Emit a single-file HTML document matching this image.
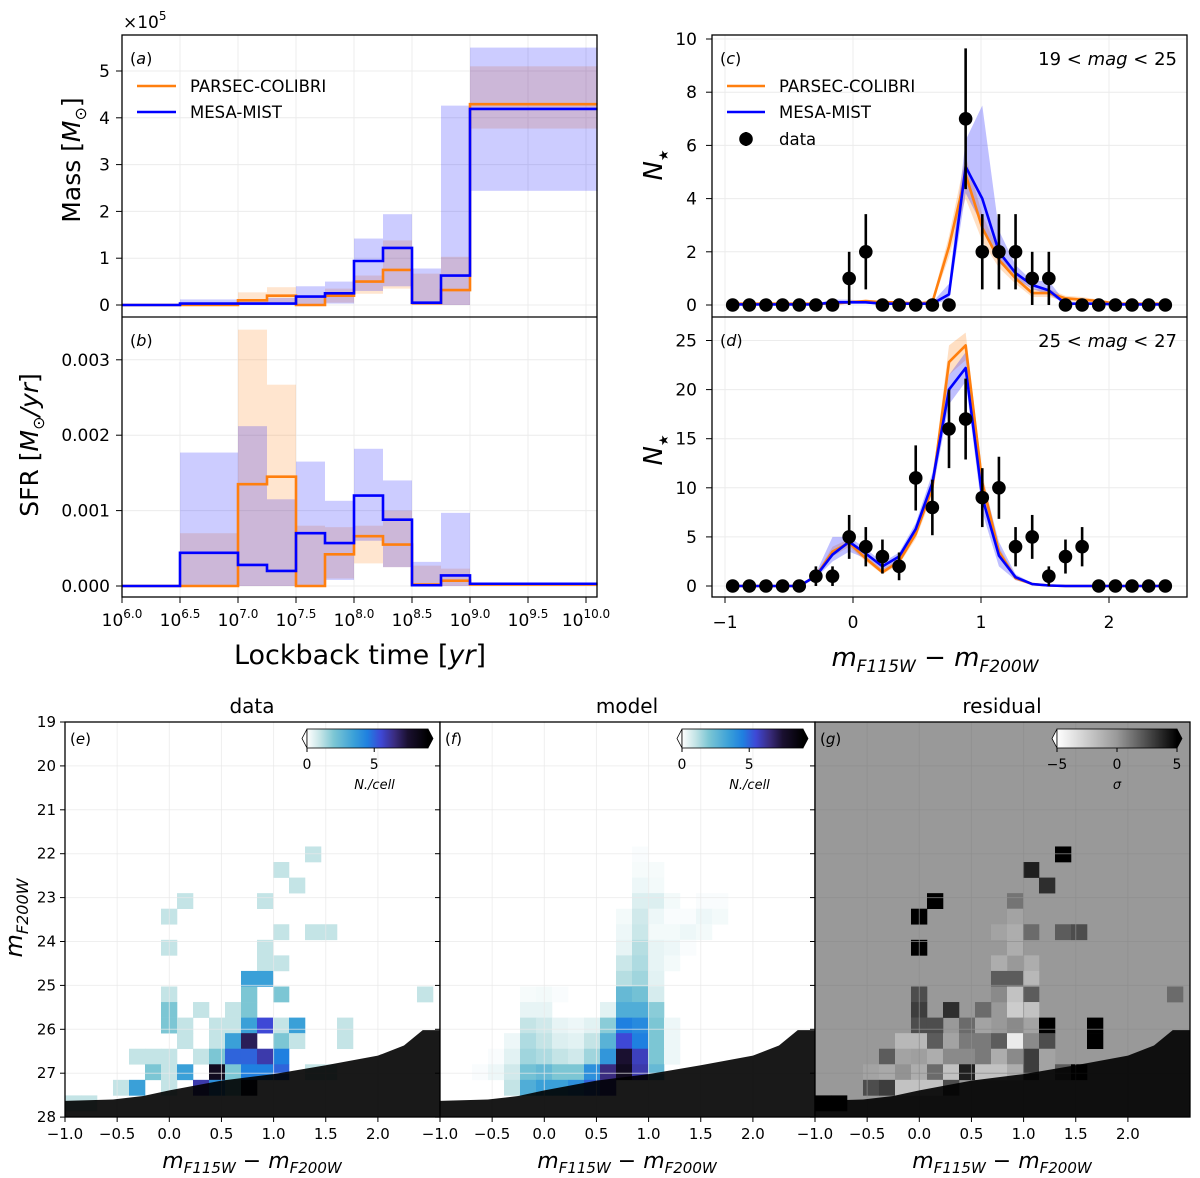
<!DOCTYPE html>
<html><head><meta charset="utf-8">
<style>
html,body{margin:0;padding:0;background:#fff;}
svg{display:block;font-family:"DejaVu Sans","Liberation Sans",sans-serif;}
</style></head>
<body>
<svg id="fig" width="1200" height="1178" viewBox="0 0 1200 1178" xmlns="http://www.w3.org/2000/svg">
<defs>
<clipPath id="clipE"><rect x="65" y="722" width="375" height="395"/></clipPath>
<clipPath id="clipF"><rect x="440" y="722" width="375" height="395"/></clipPath>
<clipPath id="clipG"><rect x="815" y="722" width="375" height="395"/></clipPath>
<linearGradient id="gradN" x1="0" x2="1" y1="0" y2="0">
<stop offset="0" stop-color="#ffffff"/><stop offset="0.111" stop-color="#c4e4e6"/><stop offset="0.222" stop-color="#7cc6d4"/><stop offset="0.389" stop-color="#3aa0d8"/><stop offset="0.5" stop-color="#1f80e0"/><stop offset="0.611" stop-color="#3e48d6"/><stop offset="0.722" stop-color="#3a2c80"/><stop offset="0.833" stop-color="#1a1030"/><stop offset="1" stop-color="#000000"/>
</linearGradient>
<linearGradient id="gradR" x1="0" x2="1" y1="0" y2="0">
<stop offset="0" stop-color="#ffffff"/><stop offset="0.5" stop-color="#999999"/><stop offset="1" stop-color="#000000"/>
</linearGradient>
</defs>
</svg>
<script>
// ---------- Panel (a)/(b) data ----------
const binEdges = [6.0,6.5,7.0,7.25,7.5,7.75,8.0,8.25,8.5,8.75,9.0,10.1];
const massParsec = [0,0,0.1,0.2,0,0.2,0.5,0.75,0.04,0.32,4.29];
const massMist   = [0,0.03,0.03,0.03,0.18,0.25,0.94,1.22,0.05,0.63,4.19];
const massMistLo = [0,0,0,0,0,0.03,0.3,0.4,0,0,2.44];
const massMistHi = [0,0.12,0.12,0.15,0.4,0.5,1.42,1.94,0.78,4.26,5.5];
const massParLo  = [0,0,0,0.05,0,0.05,0.24,0.35,0,0,3.77];
const massParHi  = [0,0,0.27,0.38,0.2,0.35,0.63,1.38,0.67,1.03,5.1];
const sfrParsec = [0,0,1.35,1.45,0,0.42,0.66,0.55,0.02,0.07,0.02];
const sfrMist   = [0,0.44,0.28,0.2,0.7,0.57,1.2,0.88,0.01,0.14,0.03];
const sfrMistLo = [0,0,0,0,0,0.08,0.6,0.25,0,0,0];
const sfrMistHi = [0,1.77,2.12,1.15,1.65,1.13,1.82,1.4,0.32,0.97,0.03];
const sfrParLo  = [0,0,0,0,0,0.1,0.3,0.25,0,0,0];
const sfrParHi  = [0,0.7,3.4,2.67,0.8,0.78,0.8,1.0,0.27,0.23,0.02];
const massTicks = [0,1,2,3,4,5];
const sfrTicks = [0,1,2,3];
const sfrTickLabels = ["0.000","0.001","0.002","0.003"];
const logTicks = [6.0,6.5,7.0,7.5,8.0,8.5,9.0,9.5,10.0];

// ---------- Panel (c)/(d) data ----------
const colors = [-0.94,-0.81,-0.68,-0.55,-0.42,-0.29,-0.16,-0.03,0.10,0.23,0.36,0.49,0.62,0.75,0.88,1.01,1.14,1.27,1.40,1.53,1.66,1.79,1.92,2.05,2.18,2.31,2.44];
const dataC = [0,0,0,0,0,0,0,1,2,0,0,0,0,0,7,2,2,2,1,1,0,0,0,0,0,0,0];
const parC  = [0.05,0.05,0.05,0.05,0.05,0.05,0.05,0.1,0.15,0.1,0.1,0.05,0.1,2.2,4.9,2.9,1.7,1.0,0.45,0.45,0.25,0.2,0.15,0.05,0.05,0.05,0.05];
const parCLo= [0.02,0.02,0.02,0.02,0.02,0.02,0.02,0.05,0.1,0.05,0.05,0.02,0.05,1.8,4.0,2.4,1.4,0.8,0.3,0.3,0.15,0.1,0.1,0.02,0.02,0.02,0.02];
const parCHi= [0.1,0.1,0.1,0.1,0.1,0.1,0.1,0.15,0.2,0.15,0.15,0.1,0.2,2.6,5.6,3.4,2.0,1.2,0.6,0.6,0.35,0.3,0.2,0.1,0.1,0.1,0.1];
const misC  = [0.02,0.02,0.02,0.02,0.02,0.02,0.1,0.1,0.1,0.05,0.05,0.05,0.05,0.4,5.2,4.0,2.0,1.2,0.75,0.55,0.05,0.05,0.05,0.02,0.02,0.02,0.02];
const misCLo= [0,0,0,0,0,0,0.05,0.05,0.05,0.02,0.02,0.02,0.02,0.2,4.2,3.0,1.6,1.0,0.6,0.4,0.02,0.02,0.02,0,0,0,0];
const misCHi= [0.05,0.05,0.05,0.05,0.05,0.05,0.2,0.2,0.15,0.1,0.1,0.1,0.1,0.8,6.2,7.5,2.8,1.5,0.9,0.9,0.1,0.1,0.1,0.05,0.05,0.05,0.05];
const dataD = [0,0,0,0,0,1,1,5,4,3,2,11,8,16,17,9,10,4,5,1,3,4,0,0,0,0,0];
const parD  = [0,0,0,0,0,1.0,3.5,4.4,2.8,1.4,2.5,5.3,10,22.8,24.5,10.5,3.5,0.8,0.2,0.05,0,0,0,0,0,0,0];
const parDLo= [0,0,0,0,0,0.8,3.0,4.0,2.5,1.2,2.2,4.8,9.2,21.5,23.0,9.5,3.0,0.6,0.1,0,0,0,0,0,0,0,0];
const parDHi= [0,0,0,0,0,1.2,4.0,4.8,3.1,1.7,2.8,5.8,10.8,24.5,25.8,11.5,4.0,1.0,0.3,0.1,0,0,0,0,0,0,0];
const misD  = [0,0,0,0,0,1.0,3.2,4.5,3.3,2.0,3.0,5.8,10.5,20,22.2,9.0,3.1,0.9,0.2,0.05,0,0,0,0,0,0,0];
const misDLo= [0,0,0,0,0,0.8,2.5,3.5,2.8,1.6,2.6,5.2,9.5,18.5,20.8,7.5,2.0,0.6,0.1,0,0,0,0,0,0,0,0];
const misDHi= [0,0,0,0,0,1.3,5.0,5.0,3.8,2.4,3.4,6.4,11.5,21.5,23.8,11.0,4.5,1.2,0.3,0.1,0,0,0,0,0,0,0];
const ticksC = [0,2,4,6,8,10];
const ticksD = [0,5,10,15,20,25];
const colorTicks = [-1,0,1,2];

// ---------- Panel (e)/(f)/(g) data: [col,row,value] ----------
const cmdData = [[15,8,1],[13,9,1],[14,10,1],[7,11,1],[12,11,1],[6,12,1],[13,13,1],[15,13,1],[16,13,1],[6,14,1],[12,14,1],[12,15,1],[13,15,1],[11,16,3.5],[12,16,3.5],[6,17,1],[11,17,2],[13,17,2],[22,17,1],
[6,18,2],[8,18,1],[10,18,1],[11,18,2],[6,19,2],[7,19,1],[9,19,1],[10,19,1],[11,19,3.5],[12,19,5.5],[13,19,1],[14,19,3.5],[17,19,1],
[7,20,1],[9,20,1],[10,20,3.5],[11,20,7],[13,20,2],[14,20,1],[17,20,1],[4,21,1],[5,21,1],[6,21,1],[8,21,1],[9,21,2],[10,21,5],[11,21,5],[12,21,6],[13,21,4.5],
[5,22,2],[6,22,1],[7,22,3.5],[9,22,8],[10,22,2],[11,22,4.5],[12,22,4.5],[13,22,5],[15,22,1],[16,22,1],[3,23,1],[4,23,3.5],[6,23,1],[8,23,6],[9,23,4],[10,23,2],[11,23,8],[0,24,1],[1,24,1]];
const cmdModel = [[12,8,0.1],[12,9,0.15],[13,9,0.15],[12,10,0.3],[13,10,0.2],[12,11,0.6],[13,11,0.6],[14,11,0.2],[16,11,0.1],[17,11,0.1],
[11,12,0.2],[12,12,0.8],[13,12,0.3],[14,12,0.1],[15,12,0.1],[16,12,0.3],[17,12,0.2],[11,13,0.3],[12,13,0.9],[13,13,0.2],[14,13,0.2],[15,13,0.3],[16,13,0.2],
[11,14,0.4],[12,14,1.2],[13,14,0.4],[14,14,0.3],[15,14,0.1],[11,15,0.9],[12,15,1.3],[13,15,0.4],[14,15,0.2],[11,16,1.2],[12,16,1.5],[13,16,0.5],
[5,17,0.15],[6,17,0.2],[7,17,0.1],[11,17,2.5],[12,17,2.2],[13,17,0.7],[5,18,0.4],[6,18,0.4],[10,18,0.5],[11,18,3],[12,18,3],[13,18,1.8],
[5,19,1.0],[6,19,0.8],[7,19,0.4],[8,19,0.3],[9,19,0.5],[10,19,1.8],[11,19,4.5],[12,19,4.2],[13,19,2.0],[14,19,0.3],
[4,20,0.3],[5,20,1.3],[6,20,1.0],[7,20,0.6],[8,20,0.5],[9,20,1.0],[10,20,2.8],[11,20,5.5],[12,20,4.5],[13,20,2.0],[14,20,0.3],
[3,21,0.1],[4,21,0.5],[5,21,1.5],[6,21,1.3],[7,21,1.0],[8,21,0.8],[9,21,1.5],[10,21,3.8],[11,21,7.5],[12,21,5.8],[13,21,2.0],[14,21,0.3],
[2,22,0.1],[3,22,0.3],[4,22,0.8],[5,22,2.2],[6,22,2.5],[7,22,2.0],[8,22,2.0],[9,22,4.0],[10,22,6.5],[11,22,8.0],[12,22,6.0],[13,22,2.5],
[4,23,1.0],[5,23,3],[6,23,3.5],[7,23,3.5],[8,23,4],[9,23,5],[10,23,6]];
const cmdResid = [[15,8,5],[13,9,4],[14,10,3.5],[7,11,5],[12,11,1.2],[6,12,5],[12,12,-0.5],[11,13,-0.5],[12,13,-1],[13,13,1.5],[15,13,2],[16,13,2.5],[6,14,5],[12,14,-1],
[11,15,-1],[13,15,-1],[11,16,2],[12,16,2],[13,16,-1.5],[6,17,2.5],[11,17,0.5],[12,17,-2],[13,17,2],[22,17,1.5],
[6,18,3],[8,18,3.5],[10,18,1.5],[12,18,-2.5],[13,18,-2],[6,19,2.5],[7,19,2.5],[9,19,1.5],[10,19,-0.5],[12,19,0.5],[13,19,-0.5],[14,19,5],[17,19,5],
[5,20,-1.5],[6,20,-1.5],[7,20,2],[8,20,-0.5],[9,20,1],[10,20,1],[11,20,2],[12,20,-4],[13,20,0.5],[14,20,2.5],[17,20,5],
[4,21,2],[5,21,-0.5],[6,21,-0.3],[7,21,-1],[8,21,0.5],[9,21,0.5],[10,21,1],[11,21,-1],[12,21,0.5],[13,21,3],[14,21,-0.5],
[3,22,-0.5],[4,22,-0.8],[5,22,0.2],[6,22,-1],[7,22,1.5],[8,22,-2],[9,22,4],[10,22,-2],[11,22,-2],[12,22,-1],[13,22,3],[14,22,-0.5],[15,22,2],[16,22,5],
[3,23,2.5],[4,23,3],[5,23,-2],[6,23,-2],[7,23,-2],[8,23,2.5],[0,24,5],[1,24,5]];
const maskX = [-1,-0.54,-0.25,0,0.5,1.0,1.5,2.0,2.25,2.43,2.7];
const maskY = [27.63,27.6,27.52,27.39,27.17,27.02,26.82,26.6,26.37,26.02,26.02];
const magTicks = [19,20,21,22,23,24,25,26,27,28];
const cmdXTicks = [-1.0,-0.5,0.0,0.5,1.0,1.5,2.0];

// ---------- helpers ----------
const svg = document.getElementById('fig');
const NS = 'http://www.w3.org/2000/svg';
function mk(tag, attrs, parent){
  const e = document.createElementNS(NS, tag);
  for (const k in attrs) e.setAttribute(k, attrs[k]);
  (parent||svg).appendChild(e);
  return e;
}
function txt(x,y,s,size,anchor,parent,extra){
  const t = mk('text',{x:x,y:y,'font-size':size,'text-anchor':anchor||'middle',fill:'#000'},parent);
  if (extra) for (const k in extra) t.setAttribute(k, extra[k]);
  t.textContent = s;
  return t;
}
const ORANGE='#ff7f0e', BLUE='#0000ff';

// ---------- (a)/(b) ----------
const xL = v => 122 + (v-6)*116;
const yA = v => 305 - v*46.8;
const yB = v => 586 - v*75.4;
const gAB = mk('g',{});


logTicks.forEach(t=>{ [ [35,317],[317,597] ].forEach(r=>mk('line',{x1:xL(t),x2:xL(t),y1:r[0],y2:r[1],stroke:'#ececec','stroke-width':1},gAB)); });
massTicks.forEach(t=>mk('line',{x1:122,x2:597,y1:yA(t),y2:yA(t),stroke:'#ececec','stroke-width':1},gAB));
sfrTicks.forEach(t=>mk('line',{x1:122,x2:597,y1:yB(t),y2:yB(t),stroke:'#ececec','stroke-width':1},gAB));
function bands(lo,hi,ys,color,g){
  for(let i=0;i<lo.length;i++){
    if(hi[i]<=lo[i]) continue;
    const r = mk('rect',{x:xL(binEdges[i]),y:ys(hi[i]),width:xL(binEdges[i+1])-xL(binEdges[i]),height:ys(lo[i])-ys(hi[i]),fill:color,'fill-opacity':0.2},g);
    
    
  }
}
function steps(vals,ys,color,g,name){
  let d='M'+xL(binEdges[0])+','+ys(vals[0]);
  for(let i=0;i<vals.length;i++){
    if(i>0) d+=' V'+ys(vals[i]);
    d+=' H'+xL(binEdges[i+1]);
  }
  const p = mk('path',{d:d,fill:'none',stroke:color,'stroke-width':2.6},g);
  
  
}
bands(massParLo,massParHi,yA,ORANGE,gAB);
bands(massMistLo,massMistHi,yA,BLUE,gAB);
bands(sfrParLo,sfrParHi,yB,ORANGE,gAB);
bands(sfrMistLo,sfrMistHi,yB,BLUE,gAB);
steps(massParsec,yA,ORANGE,gAB,'mass-parsec-line');
steps(massMist,yA,BLUE,gAB,'mass-mist-line');
steps(sfrParsec,yB,ORANGE,gAB,'sfr-parsec-line');
steps(sfrMist,yB,BLUE,gAB,'sfr-mist-line');
mk('rect',{x:122,y:35,width:475,height:562,fill:'none',stroke:'#000','stroke-width':1.3},gAB);
mk('line',{x1:122,x2:597,y1:317,y2:317,stroke:'#000','stroke-width':1.3},gAB);
massTicks.forEach(t=>{ mk('line',{x1:116,x2:122,y1:yA(t),y2:yA(t),stroke:'#000'},gAB); txt(110,yA(t)+6,String(t),17,'end',gAB); });
sfrTicks.forEach((t,i)=>{ mk('line',{x1:116,x2:122,y1:yB(t),y2:yB(t),stroke:'#000'},gAB); txt(110,yB(t)+6,sfrTickLabels[i],17,'end',gAB); });
logTicks.forEach(t=>{
  mk('line',{x1:xL(t),x2:xL(t),y1:597,y2:603,stroke:'#000'},gAB);
  const tt = txt(xL(t),626,'10',17,'middle',gAB);
  const s = mk('tspan',{'font-size':12,dy:-8},tt); s.textContent=t.toFixed(1);
});
const x5 = txt(123,28,'×10',17,'start',gAB); const x5s = mk('tspan',{'font-size':12,dy:-8},x5); x5s.textContent='5';
txt(130,64,'',16,'start',gAB).innerHTML='(<tspan font-style="italic">a</tspan>)';
txt(130,346,'',16,'start',gAB).innerHTML='(<tspan font-style="italic">b</tspan>)';
const ylA = txt(0,0,'',25,'middle',gAB,{transform:'translate(80,160) rotate(-90)'});
ylA.innerHTML='Mass [<tspan font-style="italic">M</tspan><tspan font-size="16" dy="6">⊙</tspan><tspan dy="-6">]</tspan>';
 
const ylB = txt(0,0,'',25,'middle',gAB,{transform:'translate(38,445) rotate(-90)'});
ylB.innerHTML='SFR [<tspan font-style="italic">M</tspan><tspan font-size="16" dy="6">⊙</tspan><tspan dy="-6" font-style="italic">/yr</tspan>]';
 
const xlAB = txt(360,664,'',27,'middle',gAB);
xlAB.innerHTML='Lockback time [<tspan font-style="italic">yr</tspan>]';
 
const legA = mk('g',{},gAB);
 
mk('line',{x1:137,x2:176,y1:86,y2:86,stroke:ORANGE,'stroke-width':2.6},legA);
mk('line',{x1:137,x2:176,y1:112,y2:112,stroke:BLUE,'stroke-width':2.6},legA);
txt(190,92,'PARSEC-COLIBRI',16.5,'start',legA);
txt(190,118,'MESA-MIST',16.5,'start',legA);

// ---------- (c)/(d) ----------
const xR = c => 853 + c*128;
const yC = v => 305 - v*26.6;
const yD = v => 586 - v*9.82;
const gCD = mk('g',{});


colorTicks.forEach(t=>{ [ [35,317],[317,597] ].forEach(r=>mk('line',{x1:xR(t),x2:xR(t),y1:r[0],y2:r[1],stroke:'#ececec'},gCD)); });
ticksC.forEach(t=>mk('line',{x1:712,x2:1187,y1:yC(t),y2:yC(t),stroke:'#ececec'},gCD));
ticksD.forEach(t=>mk('line',{x1:712,x2:1187,y1:yD(t),y2:yD(t),stroke:'#ececec'},gCD));
function bandPoly(lo,hi,ys,color,g){
  let pts=[];
  for(let i=0;i<colors.length;i++) pts.push(xR(colors[i])+','+ys(hi[i]));
  for(let i=colors.length-1;i>=0;i--) pts.push(xR(colors[i])+','+ys(lo[i]));
  const p = mk('polygon',{points:pts.join(' '),fill:color,'fill-opacity':0.25},g);
   
}
function poly(vals,ys,color,g,name){
  const p = mk('polyline',{points:colors.map((c,i)=>xR(c)+','+ys(vals[i])).join(' '),fill:'none',stroke:color,'stroke-width':2.6,'stroke-linejoin':'round'},g);
   
}
function points(vals,ys,g){
  vals.forEach((v,i)=>{
    const x=xR(colors[i]);
    if(v>0){ const e=Math.sqrt(v); const l=mk('line',{x1:x,x2:x,y1:ys(v-e),y2:ys(v+e),stroke:'#000','stroke-width':2.6},g);
        }
    const c=mk('circle',{cx:x,cy:ys(v),r:6.8,fill:'#000'},g);
     
  });
}
bandPoly(parCLo,parCHi,yC,ORANGE,gCD); bandPoly(misCLo,misCHi,yC,BLUE,gCD);
poly(parC,yC,ORANGE,gCD,'parsec-line-c'); poly(misC,yC,BLUE,gCD,'mist-line-c');
points(dataC,yC,gCD);
bandPoly(parDLo,parDHi,yD,ORANGE,gCD); bandPoly(misDLo,misDHi,yD,BLUE,gCD);
poly(parD,yD,ORANGE,gCD,'parsec-line-d'); poly(misD,yD,BLUE,gCD,'mist-line-d');
points(dataD,yD,gCD);
mk('rect',{x:712,y:35,width:475,height:562,fill:'none',stroke:'#000','stroke-width':1.3},gCD);
mk('line',{x1:712,x2:1187,y1:317,y2:317,stroke:'#000','stroke-width':1.3},gCD);
ticksC.forEach(t=>{ mk('line',{x1:706,x2:712,y1:yC(t),y2:yC(t),stroke:'#000'},gCD); txt(697,yC(t)+6,String(t),17,'end',gCD); });
ticksD.forEach(t=>{ mk('line',{x1:706,x2:712,y1:yD(t),y2:yD(t),stroke:'#000'},gCD); txt(697,yD(t)+6,String(t),17,'end',gCD); });
colorTicks.forEach(t=>{ mk('line',{x1:xR(t),x2:xR(t),y1:597,y2:603,stroke:'#000'},gCD); txt(xR(t),628,t<0?'−'+Math.abs(t):String(t),17,'middle',gCD); });
txt(720,64,'',16,'start',gCD).innerHTML='(<tspan font-style="italic">c</tspan>)';
txt(720,346,'',16,'start',gCD).innerHTML='(<tspan font-style="italic">d</tspan>)';
txt(1177,65,'',18,'end',gCD).innerHTML='19 &lt; <tspan font-style="italic">mag</tspan> &lt; 25';
txt(1177,347,'',18,'end',gCD).innerHTML='25 &lt; <tspan font-style="italic">mag</tspan> &lt; 27';
[[165,'nstar-axis-title-c'],[450,'nstar-axis-title-d']].forEach(a=>{
  const t=txt(0,0,'',26,'middle',gCD,{transform:'translate(662,'+a[0]+') rotate(-90)'});
  t.innerHTML='<tspan font-style="italic">N</tspan><tspan font-size="13" dy="6">★</tspan>';
   
});
const xlCD=txt(935,666,'',26,'middle',gCD);
xlCD.innerHTML='<tspan font-style="italic">m</tspan><tspan font-size="17" dy="6" font-style="italic">F115W</tspan><tspan dy="-6"> − </tspan><tspan font-style="italic">m</tspan><tspan font-size="17" dy="6" font-style="italic">F200W</tspan>';
 
const legC = mk('g',{},gCD);
 
mk('line',{x1:727,x2:765,y1:86,y2:86,stroke:ORANGE,'stroke-width':2.6},legC);
mk('line',{x1:727,x2:765,y1:112,y2:112,stroke:BLUE,'stroke-width':2.6},legC);
mk('line',{x1:746,x2:746,y1:132,y2:146,stroke:'#000','stroke-width':2.6},legC);
mk('circle',{cx:746,cy:139,r:6.8,fill:'#000'},legC);
txt(779,92,'PARSEC-COLIBRI',16.5,'start',legC);
txt(779,118,'MESA-MIST',16.5,'start',legC);
txt(779,145,'data',16.5,'start',legC);

// ---------- (e)/(f)/(g) ----------
function cmapN(v){
  const st=[[0,[255,255,255]],[1,[196,228,230]],[2,[124,198,212]],[3.5,[58,160,216]],[4.5,[31,128,224]],[5.5,[62,72,214]],[6.5,[58,44,128]],[7.5,[26,16,48]],[9,[0,0,0]]];
  if(v>=9) return 'rgb(0,0,0)';
  for(let i=0;i<st.length-1;i++){ if(v<=st[i+1][0]){ const f=(v-st[i][0])/(st[i+1][0]-st[i][0]); const a=st[i][1],b=st[i+1][1];
    return 'rgb('+a.map((c,k)=>Math.round(c+(b[k]-c)*f)).join(',')+')'; } }
  return 'rgb(0,0,0)';
}
function cmapR(v){
  const f=Math.max(0,Math.min(1,(v+5)/10));
  const g = f<0.5 ? 255-(255-153)*f*2 : 153-153*(f-0.5)*2;
  const c=Math.round(g); return 'rgb('+c+','+c+','+c+')';
}
const CW = 0.1534, RH = 0.3544;
function cmdPanel(L, clip, cells, cmap, bg, title, label, cbar){
  const g = mk('g',{});
  
  
  const xH = c => L + (c+1)*104.3;
  const yH = m => 722 + (m-19)*43.9;
  const inner = mk('g',{'clip-path':'url(#'+clip+')'},g);
  mk('rect',{x:L,y:722,width:375,height:395,fill:bg},inner);
  cells.forEach(c=>{
    const x0=xH(-1+c[0]*CW), x1=xH(-1+(c[0]+1)*CW), y0=yH(19+c[1]*RH), y1=yH(19+(c[1]+1)*RH);
    const r=mk('rect',{x:x0,y:y0,width:x1-x0+0.3,height:y1-y0+0.3,fill:cmap(c[2])},inner);
    
    
  });
  cmdXTicks.forEach(t=>mk('line',{x1:xH(t),x2:xH(t),y1:722,y2:1117,stroke:bg==='#fff'?'#e8e8e8':'#8f8f8f','stroke-width':1,'stroke-opacity':0.7},inner));
  magTicks.forEach(t=>mk('line',{x1:L,x2:L+375,y1:yH(t),y2:yH(t),stroke:bg==='#fff'?'#e8e8e8':'#8f8f8f','stroke-width':1,'stroke-opacity':0.7},inner));
  let d='M'+xH(maskX[0])+','+yH(maskY[0]);
  for(let i=1;i<maskX.length;i++) d+=' L'+xH(maskX[i])+','+yH(maskY[i]);
  d+=' L'+xH(maskX[maskX.length-1])+','+yH(28.2)+' L'+xH(maskX[0])+','+yH(28.2)+' Z';
  const m=mk('path',{d:d,fill:'#000','fill-opacity':0.9},inner);
   
  mk('rect',{x:L,y:722,width:375,height:395,fill:'none',stroke:'#000','stroke-width':1.3},g);
  magTicks.forEach(t=>mk('line',{x1:L-5,x2:L,y1:yH(t),y2:yH(t),stroke:'#000'},g));
  cmdXTicks.forEach(t=>{ mk('line',{x1:xH(t),x2:xH(t),y1:1117,y2:1122,stroke:'#000'},g);
    txt(xH(t),1139,(t<0?'−':'')+Math.abs(t).toFixed(1),15,'middle',g); });
  const tt=txt(L+187,713,title,20,'middle',g);
   
  txt(L+5,744,'',15,'start',g).innerHTML='(<tspan font-style="italic">'+label+'</tspan>)';
  const xl=txt(L+187,1168,'',22,'middle',g);
  xl.innerHTML='<tspan font-style="italic">m</tspan><tspan font-size="15" dy="5" font-style="italic">F115W</tspan><tspan dy="-5"> − </tspan><tspan font-style="italic">m</tspan><tspan font-size="15" dy="5" font-style="italic">F200W</tspan>';
   
  const cb=mk('g',{},g);
   
  const cx0=cbar.x0, cx1=cbar.x1;
  mk('polygon',{points:(cx0-5)+',738.5 '+cx0+',729 '+cx0+',748','fill':cbar.lowc,stroke:'#000','stroke-width':0.8},cb);
  mk('polygon',{points:(cx1+5)+',738.5 '+cx1+',729 '+cx1+',748',fill:'#000',stroke:'#000','stroke-width':0.8},cb);
  mk('rect',{x:cx0,y:729,width:cx1-cx0,height:19,fill:'url(#'+cbar.grad+')',stroke:'#000','stroke-width':0.8},cb);
  cbar.ticks.forEach(t=>{ const x=cx0+(t[0]-cbar.vmin)/(cbar.vmax-cbar.vmin)*(cx1-cx0);
    mk('line',{x1:x,x2:x,y1:748,y2:752,stroke:'#000'},cb); txt(x,769,t[1],14,'middle',cb); });
  txt((cx0+cx1)/2+ (cbar.grad==='gradN'?7:0),789,cbar.label,13,'middle',cb,{'font-style':'italic'});
  return g;
}
cmdPanel(65,'clipE',cmdData,cmapN,'#fff','data','e',{x0:307,x1:428,grad:'gradN',lowc:'#fff',vmin:0,vmax:9,ticks:[[0,'0'],[5,'5']],label:'N./cell'});
cmdPanel(440,'clipF',cmdModel,cmapN,'#fff','model','f',{x0:682,x1:803,grad:'gradN',lowc:'#fff',vmin:0,vmax:9,ticks:[[0,'0'],[5,'5']],label:'N./cell'});
cmdPanel(815,'clipG',cmdResid,cmapR,'#999999','residual','g',{x0:1057,x1:1177,grad:'gradR',lowc:'#fff',vmin:-5,vmax:5,ticks:[[-5,'−5'],[0,'0'],[5,'5']],label:'σ'});
const yH0 = m => 722 + (m-19)*43.9;
magTicks.forEach(t=>txt(56,yH0(t)+5,String(t),15,'end'));
const yl=txt(0,0,'',24,'middle',svg,{transform:'translate(22,918) rotate(-90)'});
yl.innerHTML='<tspan font-style="italic">m</tspan><tspan font-size="16" dy="6" font-style="italic">F200W</tspan>';
 
</script>
</body></html>
